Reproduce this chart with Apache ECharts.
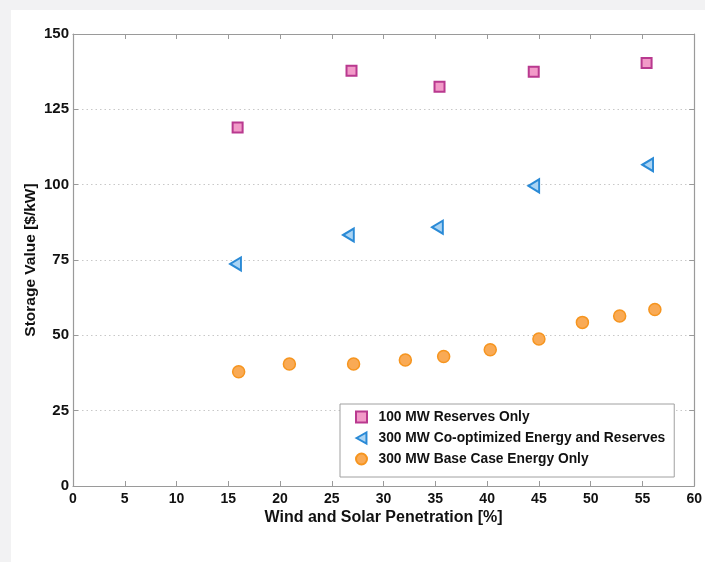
<!DOCTYPE html>
<html>
<head>
<meta charset="utf-8">
<script src="https://cdn.jsdelivr.net/npm/echarts@6/dist/echarts.min.js"></script>
<style>
html,body{margin:0;padding:0;background:#f2f2f3;}
#panel{position:absolute;left:11px;top:10px;width:694px;height:552px;background:#fff;}
#c{position:absolute;left:0;top:0;width:705px;height:562px;}
</style>
</head>
<body>
<div id="panel"></div>
<div id="c"></div>
<script>
const xTicks = [0, 5, 10, 15, 20, 25, 30, 35, 40, 45, 50, 55, 60];
const yTicks = [0, 25, 50, 75, 100, 125, 150];

const reservesName = '100 MW Reserves Only';
const reservesX = [15.9, 26.9, 35.4, 44.5, 55.4];
const reservesY = [119.0, 137.8, 132.5, 137.5, 140.4];

const coOptName = '300 MW Co-optimized Energy and Reserves';
const coOptX = [15.7, 26.6, 35.2, 44.5, 55.5];
const coOptY = [73.7, 83.3, 85.9, 99.6, 106.6];

const baseName = '300 MW Base Case Energy Only';
const baseX = [16.0, 20.9, 27.1, 32.1, 35.8, 40.3, 45.0, 49.2, 52.8, 56.2];
const baseY = [37.9, 40.5, 40.5, 41.8, 43.0, 45.2, 48.8, 54.3, 56.4, 58.6];

const pair = (xs, ys) => xs.map((x, i) => [x, ys[i]]);

const FONT = '"Liberation Sans", Arial, sans-serif';
const triPath = 'path://M0,5L9,0L9,10Z';
const sqPath = 'path://M0,0L10,0L10,10L0,10Z';

const axisLine = {show: true, onZero: false, lineStyle: {color: '#9a9a9a', width: 1.2}};
const tick = {show: true, inside: true, length: 5, lineStyle: {color: '#9a9a9a', width: 1}};

const chart = echarts.init(document.getElementById('c'), null, {renderer: 'canvas'});
chart.setOption({
  backgroundColor: 'transparent',
  animation: false,
  grid: {left: 73, right: 8, top: 34, bottom: 76, containLabel: false},
  xAxis: [{
    type: 'value', min: xTicks[0], max: xTicks[xTicks.length - 1], interval: 5,
    position: 'bottom',
    name: 'Wind and Solar Penetration [%]', nameLocation: 'middle', nameGap: 24,
    nameMoveOverlap: false,
    nameTextStyle: {fontFamily: FONT, fontWeight: 'bold', fontSize: 16, color: '#111'},
    axisLine: axisLine, axisTick: tick,
    axisLabel: {fontFamily: FONT, fontWeight: 'bold', fontSize: 14, color: '#111', margin: 6},
    splitLine: {show: false}
  }, {
    type: 'value', min: xTicks[0], max: xTicks[xTicks.length - 1], interval: 5,
    position: 'top',
    axisLine: axisLine, axisTick: tick, axisLabel: {show: false}, splitLine: {show: false}
  }],
  yAxis: [{
    type: 'value', min: yTicks[0], max: yTicks[yTicks.length - 1], interval: 25,
    position: 'left',
    name: 'Storage Value [$/kW]', nameLocation: 'middle', nameGap: 34,
    nameMoveOverlap: false,
    nameTextStyle: {fontFamily: FONT, fontWeight: 'bold', fontSize: 15.5, color: '#111'},
    axisLine: axisLine, axisTick: tick,
    axisLabel: {fontFamily: FONT, fontWeight: 'bold', fontSize: 15, color: '#111', margin: 4},
    splitLine: {show: true, lineStyle: {color: '#c8c8c8', type: [1.5, 3], width: 1}}
  }, {
    type: 'value', min: yTicks[0], max: yTicks[yTicks.length - 1], interval: 25,
    position: 'right',
    axisLine: axisLine, axisTick: tick, axisLabel: {show: false}, splitLine: {show: false}
  }],
  legend: {
    orient: 'vertical', left: 340, top: 404,
    padding: [6, 9, 11, 15],
    itemWidth: 24, itemHeight: 11, itemGap: 7,
    backgroundColor: '#fff', borderColor: '#a0a0a0', borderWidth: 1,
    textStyle: {fontFamily: FONT, fontWeight: 'bold', fontSize: 13.8, color: '#111'},
    data: [
      {name: reservesName, icon: sqPath},
      {name: coOptName, icon: triPath},
      {name: baseName, icon: 'circle'}
    ]
  },
  series: [{
    name: reservesName, type: 'scatter', data: pair(reservesX, reservesY),
    symbol: 'rect', symbolSize: 10,
    itemStyle: {color: '#f29ac8', borderColor: '#b9398f', borderWidth: 2, opacity: 1}
  }, {
    name: coOptName, type: 'scatter', data: pair(coOptX, coOptY),
    symbol: triPath, symbolSize: [12, 13], symbolKeepAspect: true,
    itemStyle: {color: '#aad4f4', borderColor: '#2a8ad6', borderWidth: 2, opacity: 1}
  }, {
    name: baseName, type: 'scatter', data: pair(baseX, baseY),
    symbol: 'circle', symbolSize: 12,
    itemStyle: {color: '#f9aa55', borderColor: '#f6951f', borderWidth: 1.5, opacity: 1}
  }]
});
</script>
</body>
</html>
